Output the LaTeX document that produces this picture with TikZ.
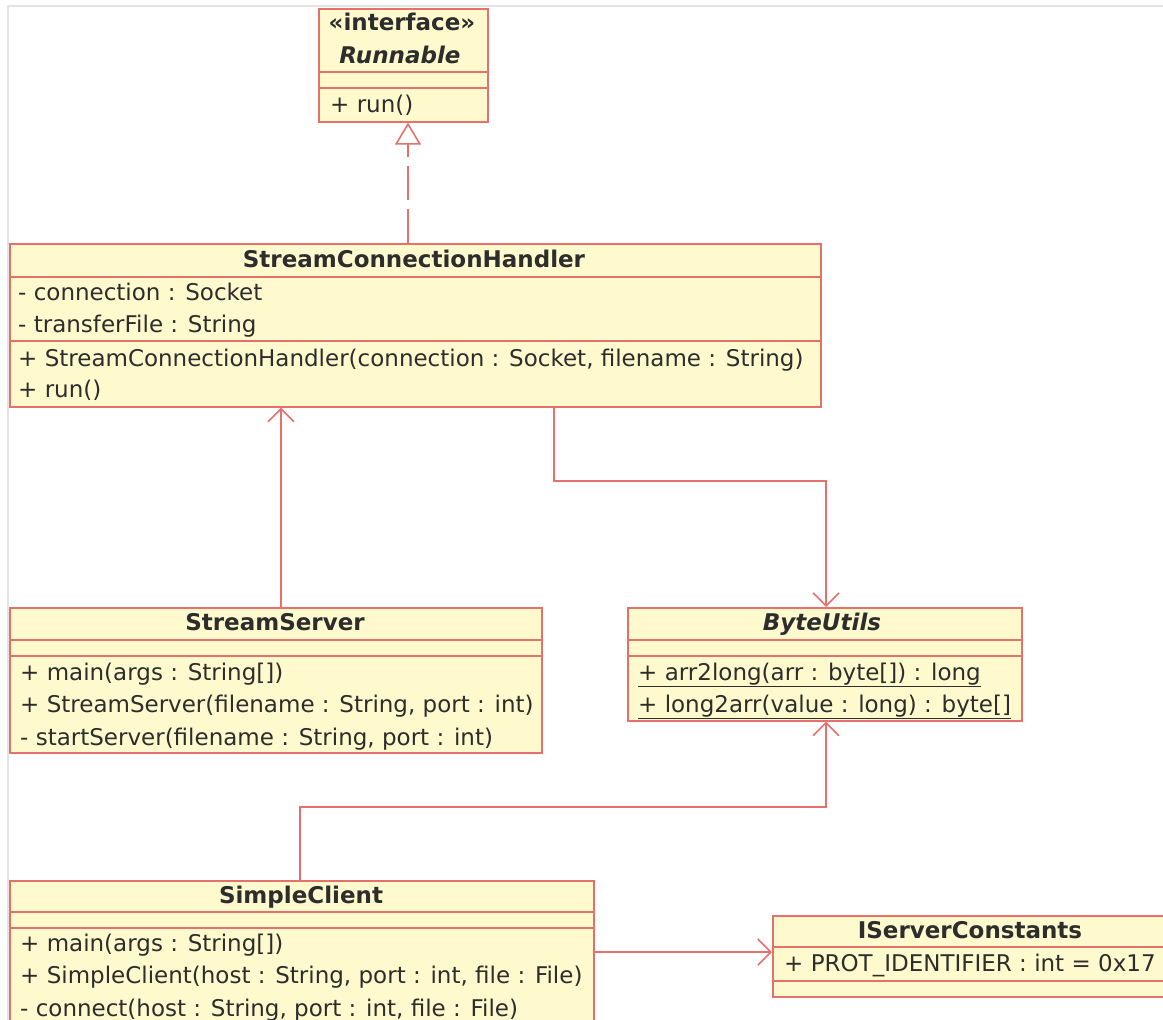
\documentclass[tikz,border=0pt]{standalone}
\usepackage{fontspec}
\setmainfont{DejaVu Sans}
\usetikzlibrary{arrows.meta,calc}
\definecolor{umlfill}{RGB}{255,250,205}
\definecolor{umlline}{RGB}{232,112,106}
\definecolor{umltext}{RGB}{45,45,45}
\definecolor{framegrey}{RGB}{228,228,228}
\begin{document}
\begin{tikzpicture}[x=1pt,y=-1pt,
 classbox/.style={draw=umlline, fill=umlfill, line width=1.6pt, inner sep=0pt, anchor=north west},
 sepline/.style={draw=umlline, line width=1.6pt},
 title/.style={font=\fontsize{23}{27}\selectfont\bfseries, text=umltext, inner sep=0pt, text height=16pt, text depth=5pt, yshift=-2.5pt},
 member/.style={font=\fontsize{23}{27}\selectfont, text=umltext, inner sep=0pt, anchor=west, text height=16pt, text depth=5pt, yshift=-2.5pt},
 assoc/.style={draw=umlline, line width=1.6pt, -{Straight Barb[length=13pt,width=26pt,line width=1.6pt]}},
 realize/.style={draw=umlline, line width=1.6pt, dash pattern=on 34pt off 9pt, -{Triangle[open,length=22pt,width=26pt,fill=white]}}
]
\useasboundingbox (0,0) rectangle (1163,1020);
\clip (0,0) rectangle (1163,1020);
\fill[white] (0,0) rectangle (1163,1020);
% frame
\draw[framegrey, line width=2pt] (8,1020) -- (8,6) -- (1163,6);

% Runnable
\node[classbox, minimum width=169pt, minimum height=113pt] (run) at (318,8) {};
\draw[sepline] ([yshift=-64pt]run.north west) -- ([yshift=-64pt]run.north east);
\draw[sepline] ([yshift=-80pt]run.north west) -- ([yshift=-80pt]run.north east);
\node[title] (run-st) at (402,22) {«interface»};
\node[title, font=\fontsize{23}{27}\selectfont\bfseries\itshape] (run-t) at (400,55) {Runnable};
\node[member] (run-o1) at (330,104) {+ run()};

% StreamConnectionHandler
\node[classbox, minimum width=811pt, minimum height=163pt] (sch) at (9,243) {};
\draw[sepline] ([yshift=-34pt]sch.north west) -- ([yshift=-34pt]sch.north east);
\draw[sepline] ([yshift=-98pt]sch.north west) -- ([yshift=-98pt]sch.north east);
\node[title] (sch-t) at (414,259) {StreamConnectionHandler};
\node[member] (sch-a1) at (18,292) {- connection : Socket};
\node[member] (sch-a2) at (18,324) {- transferFile : String};
\node[member] (sch-o1) at (18,358) {+ StreamConnectionHandler(connection : Socket, filename : String)};
\node[member] (sch-o2) at (18,389) {+ run()};

% StreamServer
\node[classbox, minimum width=532pt, minimum height=145pt] (ss) at (9,607) {};
\draw[sepline] ([yshift=-33pt]ss.north west) -- ([yshift=-33pt]ss.north east);
\draw[sepline] ([yshift=-49pt]ss.north west) -- ([yshift=-49pt]ss.north east);
\node[title] (ss-t) at (275,622) {StreamServer};
\node[member] (ss-o1) at (20,672) {+ main(args : String[])};
\node[member] (ss-o2) at (20,704) {+ StreamServer(filename : String, port : int)};
\node[member] (ss-o3) at (20,737) {- startServer(filename : String, port : int)};

% ByteUtils
\node[classbox, minimum width=394pt, minimum height=113pt] (bu) at (627,607) {};
\draw[sepline] ([yshift=-33pt]bu.north west) -- ([yshift=-33pt]bu.north east);
\draw[sepline] ([yshift=-49pt]bu.north west) -- ([yshift=-49pt]bu.north east);
\node[title, font=\fontsize{23}{27}\selectfont\bfseries\itshape] (bu-t) at (822,622) {ByteUtils};
\node[member] (bu-o1) at (638,672) {\underline{+ arr2long(arr : byte[]) : long}};
\node[member] (bu-o2) at (638,704) {\underline{+ long2arr(value : long) : byte[]}};

% SimpleClient
\node[classbox, minimum width=584pt, minimum height=160pt] (sc) at (9,880) {};
\draw[sepline] ([yshift=-32pt]sc.north west) -- ([yshift=-32pt]sc.north east);
\draw[sepline] ([yshift=-48pt]sc.north west) -- ([yshift=-48pt]sc.north east);
\node[title] (sc-t) at (301,895) {SimpleClient};
\node[member] (sc-o1) at (20,943) {+ main(args : String[])};
\node[member] (sc-o2) at (20,975) {+ SimpleClient(host : String, port : int, file : File)};
\node[member] (sc-o3) at (20,1008) {- connect(host : String, port : int, file : File)};

% IServerConstants
\node[classbox, minimum width=396pt, minimum height=81pt] (isc) at (772,915) {};
\draw[sepline] ([yshift=-32pt]isc.north west) -- ([yshift=-32pt]isc.north east);
\draw[sepline] ([yshift=-66pt]isc.north west) -- ([yshift=-66pt]isc.north east);
\node[title] (isc-t) at (970,930) {IServerConstants};
\node[member] (isc-a1) at (784,963) {+ PROT\_IDENTIFIER : int = 0x17};

% connector coordinates
\coordinate (xr) at (408,0);
\coordinate (xa) at (281,0);
\coordinate (xb) at (554,0);
\coordinate (xc) at (826,0);
\coordinate (xd) at (300,0);
\coordinate (yb) at (0,481);
\coordinate (yd) at (0,807);
\coordinate (ye) at (0,952);

% connectors
\draw[realize] (sch.north -| xr) -- (run.south -| xr);
\draw[assoc] (ss.north -| xa) -- (sch.south -| xa);
\draw[assoc] (sch.south -| xb) -- (xb |- yb) -- (xc |- yb) -- (bu.north -| xc);
\draw[assoc] (sc.north -| xd) -- (xd |- yd) -- (xc |- yd) -- (bu.south -| xc);
\draw[assoc] (sc.east |- ye) -- (isc.west |- ye);
\end{tikzpicture}
\end{document}
